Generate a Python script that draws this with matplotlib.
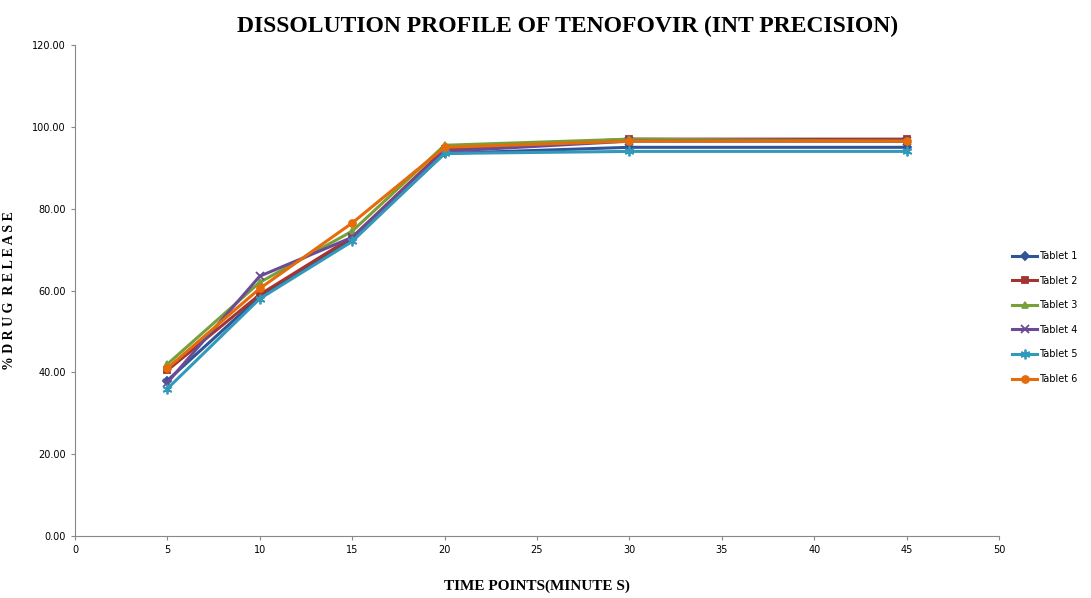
import matplotlib
matplotlib.use('Agg')
import matplotlib.pyplot as plt

# time points (minutes)
timePoints = [5, 10, 15, 20, 30, 45]

tabletNames = ["Tablet 1", "Tablet 2", "Tablet 3", "Tablet 4", "Tablet 5", "Tablet 6"]
tablet1 = [38.0, 58.5, 72.5, 93.5, 95.0, 95.0]
tablet2 = [40.5, 59.0, 73.0, 94.5, 97.0, 97.0]
tablet3 = [42.0, 62.0, 74.5, 95.5, 97.0, 96.5]
tablet4 = [37.5, 63.5, 73.0, 94.0, 96.5, 96.5]
tablet5 = [36.0, 58.0, 72.0, 93.5, 94.0, 94.0]
tablet6 = [41.0, 60.5, 76.5, 95.0, 96.5, 96.5]
data = [tablet1, tablet2, tablet3, tablet4, tablet5, tablet6]

colors = ["#2F5597", "#A33431", "#77A03A", "#6A4C96", "#3399BB", "#E46C0A"]
markers = ["D", "s", "^", "x", (6, 2, 0), "o"]
msizes = [4, 5, 5, 6, 7, 5]

fig = plt.figure(figsize=(10.91, 5.98), dpi=100)
ax = fig.add_axes([0.0687, 0.1037, 0.847, 0.821])

for i in range(len(data)):
    ax.plot(timePoints, data[i], color=colors[i], marker=markers[i], markersize=msizes[i],
            linewidth=2.2, markeredgewidth=1.3, label=tabletNames[i])

ax.set_xlim(0, 50)
ax.set_ylim(0, 120)
ax.set_xticks(range(0, 51, 5))
ax.set_yticks(range(0, 121, 20))
ax.set_yticklabels(["%.2f" % v for v in range(0, 121, 20)])
ax.tick_params(labelsize=7, length=3, color="#888888")
for s in ["top", "right"]:
    ax.spines[s].set_visible(False)
for s in ["left", "bottom"]:
    ax.spines[s].set_color("#888888")

fig.text(0.52, 0.955, "DISSOLUTION PROFILE OF TENOFOVIR (INT PRECISION)", ha="center", va="center",
         fontsize=17, fontweight="bold", family="Liberation Serif")
ax.set_xlabel("TIME POINTS(MINUTE S)", fontsize=11, fontweight="bold", family="Liberation Serif", labelpad=18)
ax.set_ylabel("% D R U G  R E L E A S E", fontsize=10, fontweight="bold", family="Liberation Serif", labelpad=12)

ax.legend(loc="center left", bbox_to_anchor=(1.005, 0.445), frameon=False, fontsize=7,
          labelspacing=1.5, handlelength=2.5, handletextpad=0.2)

fig.savefig("out.png", dpi=100)
